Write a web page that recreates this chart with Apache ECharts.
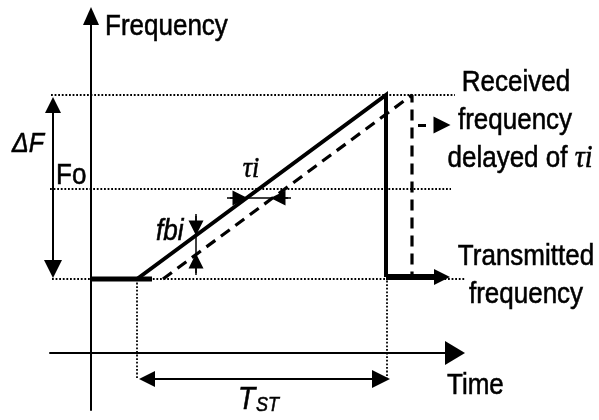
<!DOCTYPE html>
<html>
<head>
<meta charset="utf-8">
<script src="https://cdn.jsdelivr.net/npm/echarts@6/dist/echarts.min.js"></script>
<style>
html,body{margin:0;padding:0;background:#fff;}
#chart{width:599px;height:420px;}
</style>
</head>
<body>
<div id="chart"></div>
<script>
// ---- Data (time units / frequency units of the schematic) ----
// Transmitted frequency (solid)
const txFlatT = [0, 61];     const txFlatF = [74, 74];
const txRampT = [46, 295, 295]; const txRampF = [74, 258, 76];
const txTailT = [295, 351];  const txTailF = [76, 76];
// Received frequency delayed of τi (dashed)
const rxT = [72, 321, 321];  const rxF = [74, 258, 76];
// Dotted reference lines (levels: base + ΔF, Fo, base)
const dotHT = [[-40, 364], [-41, 360], [-39, 374]];
const dotHF = [258, 164, 74];
const dotVT = [46, 296];
const dotVF = [[74, -26], [76, -26]];
// Dimension arrows (end points at arrow-head centres)
const dFT = [-38, -38];      const dFF = [248, 84];      // ΔF
const tstT = [56, 290];      const tstF = [-26, -26];    // T_ST
const tauT = [139, 149, 197, 187]; const tauF = [155];   // τi
const fbiT = [105];          const fbiF = [137, 125, 80, 92]; // fbi
const legT = [327, 335, 342, 351]; const legF = [228];   // small dashed arrow

const font = "'Liberation Sans', Arial, sans-serif";
const serif = "'Liberation Serif', 'Times New Roman', serif";

function seg(t1, f1, t2, f2) { return { coords: [[t1, f1], [t2, f2]] }; }
function pairs(T, F) { return T.map((t, i) => [t, F[i]]); }

const chart = echarts.init(document.getElementById('chart'));
const black = '#000';
const SY = 1.12;

function txt(x, y, text, fnt, align, extra) {
  return Object.assign({ type: 'text', x: x, y: y, scaleY: SY,
    style: Object.assign({ text: text, font: fnt, fill: black, stroke: black, lineWidth: 0.5,
      align: align || 'left', verticalAlign: 'middle' }, extra || {}) });
}

const option = {
  backgroundColor: '#fff',
  animation: false,
  grid: { left: 50, right: 144, top: 16, bottom: 10 },
  xAxis: {
    type: 'value', min: -41, max: 364,
    axisLine: { show: true, onZero: true, symbol: ['none', 'triangle'], symbolSize: [24, 20],
      lineStyle: { color: black, width: 2 } },
    axisTick: { show: false }, axisLabel: { show: false }, splitLine: { show: false }
  },
  yAxis: {
    type: 'value', min: -57, max: 337,
    axisLine: { show: true, onZero: true, symbol: ['none', 'triangle'], symbolSize: [16, 18],
      lineStyle: { color: black, width: 2 } },
    axisTick: { show: false }, axisLabel: { show: false }, splitLine: { show: false }
  },
  series: [
    { type: 'lines', coordinateSystem: 'cartesian2d', clip: false, silent: true,
      lineStyle: { color: black, width: 1.8, type: 'dotted', opacity: 1 },
      data: dotHT.map((r, i) => seg(r[0], dotHF[i], r[1], dotHF[i])) },
    { type: 'lines', coordinateSystem: 'cartesian2d', clip: false, silent: true,
      lineStyle: { color: black, width: 1.8, type: 'dotted', opacity: 1 },
      data: dotVT.map((t, i) => seg(t, dotVF[i][0], t, dotVF[i][1])) },
    { type: 'line', showSymbol: false, clip: false, silent: true,
      lineStyle: { color: black, width: 5 }, data: pairs(txFlatT, txFlatF) },
    { type: 'line', showSymbol: false, clip: false, silent: true,
      lineStyle: { color: black, width: 4, join: 'miter' }, data: pairs(txRampT, txRampF) },
    { type: 'line', showSymbol: false, clip: false, silent: true,
      lineStyle: { color: black, width: 3.2, type: [11, 7] }, data: pairs(rxT, rxF) },
    { type: 'lines', coordinateSystem: 'cartesian2d', clip: false, silent: true,
      symbol: ['none', 'triangle'], symbolSize: [21, 16],
      lineStyle: { color: black, width: 6, opacity: 1 },
      data: [seg(txTailT[0], txTailF[0], txTailT[1], txTailF[1])] },
    { type: 'lines', coordinateSystem: 'cartesian2d', clip: false, silent: true,
      symbol: ['triangle', 'triangle'], symbolSize: [16, 18],
      lineStyle: { color: black, width: 2, opacity: 1 },
      data: [seg(dFT[0], dFF[0], dFT[1], dFF[1]), seg(tstT[0], tstF[0], tstT[1], tstF[1])] },
    { type: 'lines', coordinateSystem: 'cartesian2d', clip: false, silent: true,
      lineStyle: { color: black, width: 1.5, opacity: 1 },
      data: [seg(tauT[0] - 3, tauF[0], tauT[2] + 3, tauF[0]), seg(fbiT[0], fbiF[0] + 2, fbiT[0], fbiF[2] - 2)] },
    { type: 'lines', coordinateSystem: 'cartesian2d', clip: false, silent: true,
      symbol: ['none', 'triangle'], symbolSize: [16, 15],
      lineStyle: { color: black, width: 1.5, opacity: 1 },
      data: [seg(tauT[0], tauF[0], tauT[1], tauF[0]), seg(tauT[2], tauF[0], tauT[3], tauF[0]),
             seg(fbiT[0], fbiF[0], fbiT[0], fbiF[1]), seg(fbiT[0], fbiF[2], fbiT[0], fbiF[3])] },
    { type: 'lines', coordinateSystem: 'cartesian2d', clip: false, silent: true,
      lineStyle: { color: black, width: 3, opacity: 1 },
      data: [seg(legT[0], legF[0], legT[1], legF[0])] },
    { type: 'lines', coordinateSystem: 'cartesian2d', clip: false, silent: true,
      symbol: ['none', 'triangle'], symbolSize: [17, 17],
      lineStyle: { color: black, width: 0, opacity: 1 },
      data: [seg(legT[2], legF[0], legT[3], legF[0])] }
  ],
  graphic: [
    txt(105, 27, 'Frequency', '26px ' + font),
    txt(12, 144, 'ΔF', 'italic 25px ' + font),
    txt(56, 176, 'Fo', '26px ' + font),
    txt(251, 169, 'τi', 'italic 26px ' + serif, 'center'),
    txt(156, 232, 'fbi', 'italic 26px ' + font),
    txt(516, 83, 'Received', '26px ' + font, 'center'),
    txt(515, 121, 'frequency', '26px ' + font, 'center'),
    txt(520, 159, '{a|delayed of }{b|τi}', null, 'center',
      { rich: { a: { font: '26px ' + font, fill: black, stroke: black, lineWidth: 0.5 },
                b: { font: 'italic 28px ' + serif, fill: black, stroke: black, lineWidth: 0.5 } } }),
    txt(526, 257, 'Transmitted', '26px ' + font, 'center'),
    txt(526, 295, 'frequency', '26px ' + font, 'center'),
    txt(447, 386, 'Time', '26px ' + font),
    txt(238, 399, '{a|T}{b|ST}', null, 'left',
      { rich: { a: { font: 'italic 28px ' + font, fill: black, stroke: black, lineWidth: 0.5, lineHeight: 30, verticalAlign: 'bottom' },
                b: { font: 'italic 18px ' + font, fill: black, stroke: black, lineWidth: 0.5, lineHeight: 30, verticalAlign: 'bottom', padding: [0, 0, 0, 1] } } })
  ]
};
chart.setOption(option);
</script>
</body>
</html>
